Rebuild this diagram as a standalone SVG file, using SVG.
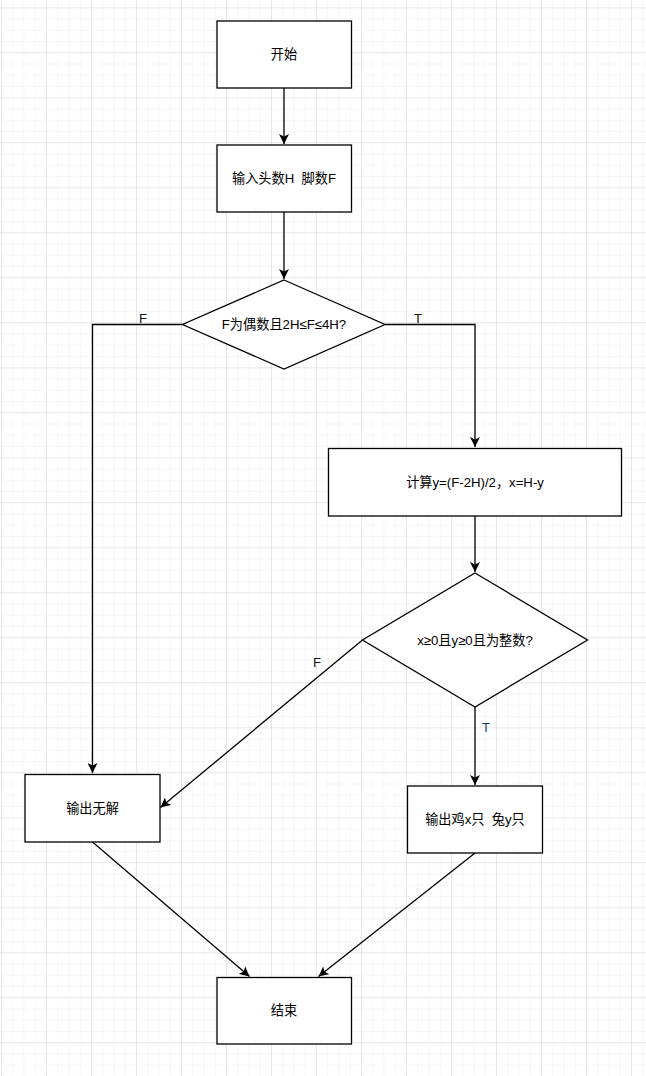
<svg xmlns="http://www.w3.org/2000/svg" width="646" height="1076" viewBox="0 0 646 1076">
<style>
.n{fill:#fff;stroke:#000;stroke-width:1.3}
.t{font-family:"Liberation Sans","Noto Sans CJK SC",sans-serif;font-size:13.2px;fill:#000;text-anchor:middle;dominant-baseline:central;white-space:pre}
.c{fill:none;stroke:#000;stroke-width:1.3}
.l{font-family:"Liberation Sans","Noto Sans CJK SC",sans-serif;font-size:13px;fill:#111;text-anchor:middle;dominant-baseline:central}
</style>
<defs>
<pattern id="minor" patternUnits="userSpaceOnUse" x="1" y="7.3" width="11.25" height="11.25">
<path d="M0 0H11.25M0 0V11.25" fill="none" stroke="#f0f0f0" stroke-width="1.1"/>
</pattern>
<pattern id="major" patternUnits="userSpaceOnUse" x="1" y="7.3" width="45" height="45">
<path d="M0 0H45M0 0V45" fill="none" stroke="#d9d9d9" stroke-width="1.1"/>
</pattern>
<marker id="a" viewBox="0 0 10 10" refX="10" refY="5" markerWidth="10" markerHeight="10" markerUnits="userSpaceOnUse" orient="auto">
<path d="M0 0L10 5L0 10L2.5 5Z" fill="#000"/>
</marker>
</defs>
<rect width="646" height="1076" fill="#fff"/>
<rect width="646" height="1076" fill="url(#minor)"/>
<rect width="646" height="1076" fill="url(#major)"/>
<g id="connectors">
<path class="c" d="M284 88V144" marker-end="url(#a)"/>
<path class="c" d="M284 212V279" marker-end="url(#a)"/>
<path class="c" d="M182.5 324.5H92.5V773" marker-end="url(#a)"/>
<path class="c" d="M385 324.5H475V447" marker-end="url(#a)"/>
<path class="c" d="M475 516V572" marker-end="url(#a)"/>
<path class="c" d="M475 707V785" marker-end="url(#a)"/>
<path class="c" d="M362.5 640L160.5 807.5" marker-end="url(#a)"/>
<path class="c" d="M92.5 842L249.5 976.5" marker-end="url(#a)"/>
<path class="c" d="M475 853L318.5 976.5" marker-end="url(#a)"/>
<text class="l" x="143" y="318">F</text>
<text class="l" x="418" y="318">T</text>
<text class="l" x="317" y="662">F</text>
<text class="l" x="486" y="727" style="fill:#1c3f73">T</text>
</g>
<g id="start"><rect class="n" x="217" y="21" width="134.5" height="67"/><text class="t" x="284" y="54.5">开始</text></g>
<g id="input"><rect class="n" x="217" y="145" width="134.5" height="67"/><text class="t" x="284" y="178.5" xml:space="preserve">输入头数H  脚数F</text></g>
<g id="cond1"><path class="n" d="M284 280L385 324.5L284 369L182.5 324.5Z"/><text class="t" x="284" y="324.5">F为偶数且2H≤F≤4H?</text></g>
<g id="calc"><rect class="n" x="328.5" y="448.5" width="293" height="67.5"/><text class="t" x="475" y="482">计算y=(F-2H)/2，x=H-y</text></g>
<g id="cond2"><path class="n" d="M475 573L587.5 640L475 707L362.5 640Z"/><text class="t" x="475" y="640">x≥0且y≥0且为整数?</text></g>
<g id="nosol"><rect class="n" x="25" y="774.5" width="135" height="67.5"/><text class="t" x="92.5" y="808">输出无解</text></g>
<g id="output"><rect class="n" x="407.5" y="786" width="135" height="67"/><text class="t" x="475" y="819.5" xml:space="preserve">输出鸡x只  兔y只</text></g>
<g id="end"><rect class="n" x="217" y="977.5" width="134.5" height="66.5"/><text class="t" x="284" y="1010.5">结束</text></g>
</svg>
